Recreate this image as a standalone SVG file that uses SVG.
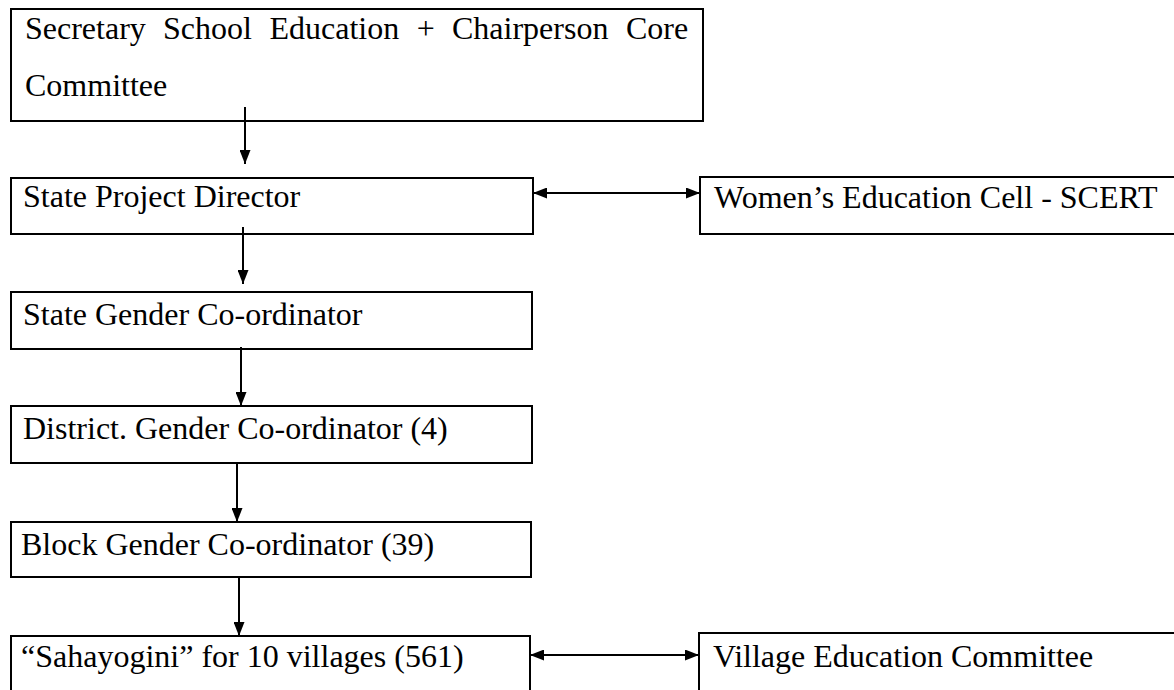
<svg xmlns="http://www.w3.org/2000/svg" width="1174" height="690" viewBox="0 0 1174 690">
<style>
.box{fill:#fff;stroke:#000;stroke-width:2}
.t{font-family:"Liberation Serif","Times New Roman",serif;font-size:32px;fill:#000}
.c{stroke:#000;stroke-width:2;fill:none}
</style>
<defs>
<marker id="ah" markerUnits="userSpaceOnUse" markerWidth="14" markerHeight="11" viewBox="0 0 14 11" refX="14" refY="5.5" orient="auto-start-reverse">
<path d="M0,0 L14,5.5 L0,11 z" fill="#000"/>
</marker>
</defs>
<rect width="1174" height="690" fill="#fff"/>
<g id="n1">
<rect class="box" x="11" y="9" width="692" height="112"/>
<text class="t" y="39"><tspan x="25">Secretary</tspan><tspan x="163">School</tspan><tspan x="269.5">Education</tspan><tspan x="416.7">+</tspan><tspan x="452">Chairperson</tspan><tspan x="626">Core</tspan></text>
<text class="t" x="25" y="96">Committee</text>
</g>
<g id="n2">
<rect class="box" x="11" y="178" width="522" height="56"/>
<text class="t" x="23" y="207">State Project Director</text>
</g>
<g id="n3">
<rect class="box" x="700" y="177" width="480" height="57"/>
<text class="t" x="714" y="208">Women’s Education Cell - SCERT</text>
</g>
<g id="n4">
<rect class="box" x="11" y="292" width="521" height="57"/>
<text class="t" x="23" y="325">State Gender Co-ordinator</text>
</g>
<g id="n5">
<rect class="box" x="11" y="406" width="521" height="57"/>
<text class="t" x="23" y="439">District. Gender Co-ordinator (4)</text>
</g>
<g id="n6">
<rect class="box" x="11" y="522" width="520" height="55"/>
<text class="t" x="21" y="555">Block Gender Co-ordinator (39)</text>
</g>
<g id="n7">
<rect class="box" x="11" y="636" width="519" height="70"/>
<text class="t" x="21" y="667">“Sahayogini” for 10 villages (561)</text>
</g>
<g id="n8">
<rect class="box" x="699" y="633" width="480" height="70"/>
<text class="t" x="713" y="667">Village Education Committee</text>
</g>
<g id="connectors">
<line class="c" x1="245" y1="107" x2="245" y2="164" marker-end="url(#ah)"/>
<line class="c" x1="243" y1="227" x2="243" y2="284" marker-end="url(#ah)"/>
<line class="c" x1="241" y1="347" x2="241" y2="406" marker-end="url(#ah)"/>
<line class="c" x1="237" y1="463" x2="237" y2="522" marker-end="url(#ah)"/>
<line class="c" x1="239" y1="577" x2="239" y2="636" marker-end="url(#ah)"/>
<line class="c" x1="533" y1="193" x2="700" y2="193" marker-start="url(#ah)" marker-end="url(#ah)"/>
<line class="c" x1="530" y1="655" x2="699" y2="655" marker-start="url(#ah)" marker-end="url(#ah)"/>
</g>
</svg>
